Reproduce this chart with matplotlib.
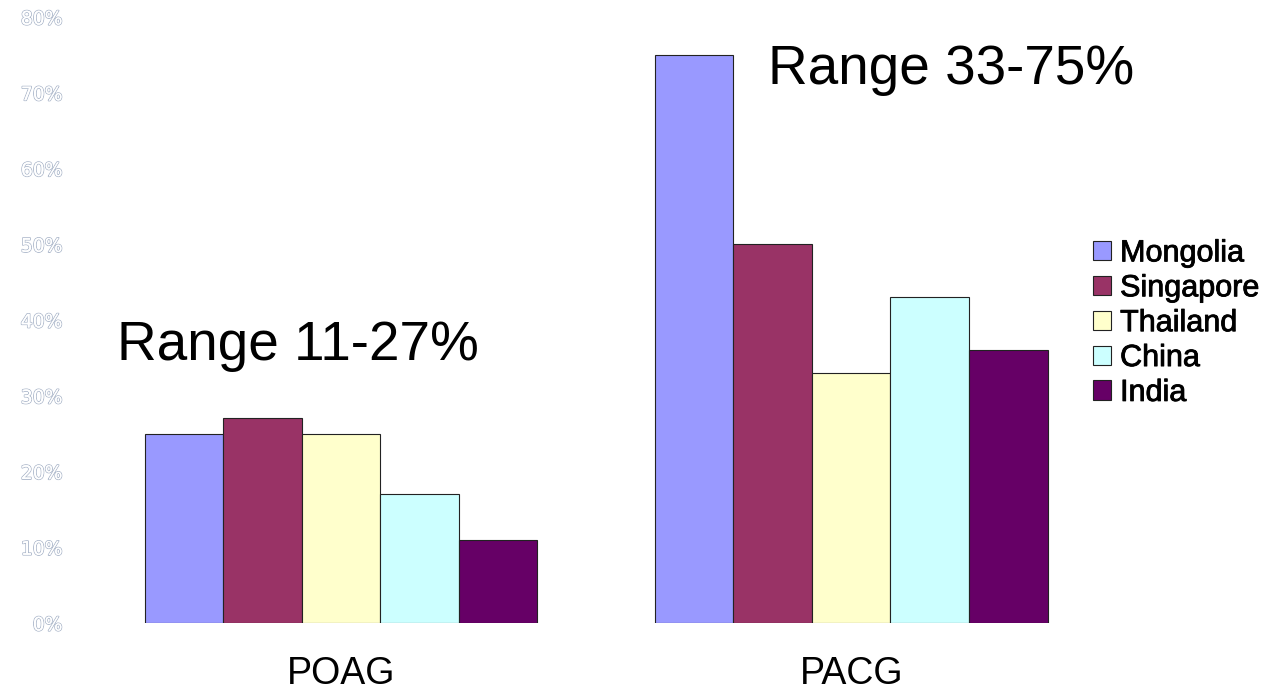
import matplotlib.pyplot as plt
import matplotlib.patheffects as pe
import numpy as np

plt.rcParams['font.family'] = ['Liberation Sans', 'DejaVu Sans']

groups = ['POAG', 'PACG']
countries = ['Mongolia', 'Singapore', 'Thailand', 'China', 'India']
colors = ['#9999FF', '#993366', '#FFFFCC', '#CCFFFF', '#660066']
# percentage per country, POAG then PACG
mongolia = [25, 75]
singapore = [27, 50]
thailand = [25, 33]
china = [17, 43]
india = [11, 36]
values = [mongolia, singapore, thailand, china, india]
yticks = [0, 10, 20, 30, 40, 50, 60, 70, 80]

fig = plt.figure(figsize=(12.77, 6.92), dpi=100)
ax = fig.add_axes([0.0673, 0.0997, 0.799, 0.8757])

x = np.arange(len(groups)) + 0.5
w = 0.154
for i, (name, vals) in enumerate(zip(countries, values)):
    ax.bar(x + (i - 2) * w, vals, w, color=colors[i], edgecolor='#222222',
           linewidth=0.8, label=name)

ax.set_xlim(0, 2)
ax.set_ylim(0, 80)
ax.set_yticks(yticks)
ax.set_yticklabels([f'{t}%' for t in yticks], fontsize=13.5, color='white',
                   family=['DejaVu Sans'])
for lab in ax.get_yticklabels():
    lab.set_path_effects([pe.withStroke(linewidth=1.2, foreground='#a8b4c8'),
                          pe.Normal()])
ax.set_xticks(x)
ax.set_xticklabels(groups, fontsize=27)
ax.tick_params(axis='x', length=0, pad=24)
ax.tick_params(axis='y', length=0, pad=17)
for s in ax.spines.values():
    s.set_visible(False)

ax.text(0.061, 36.6, 'Range 11-27%', fontsize=39.5, va='center', ha='left')
ax.text(1.337, 73, 'Range 33-75%', fontsize=39.5, va='center', ha='left')

leg = fig.legend(loc='center left', bbox_to_anchor=(0.846, 0.533), frameon=False,
                 fontsize=22, handlelength=0.6, handleheight=0.6, handletextpad=0.3,
                 labelspacing=0.16, borderaxespad=0)
for t in leg.get_texts():
    t.set_path_effects([pe.withStroke(linewidth=0.6, foreground='black')])

plt.savefig('out.png', dpi=100)
